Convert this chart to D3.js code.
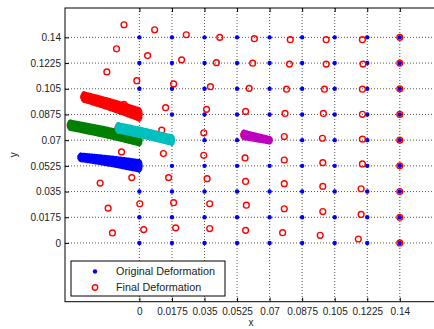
<!DOCTYPE html>
<html>
<head>
<meta charset="utf-8">
<script src="https://cdn.jsdelivr.net/npm/d3@7"></script>
<style>
  body { margin: 0; background: #fff; }
  svg { display: block; font-family: "Liberation Sans", Arial, Helvetica, sans-serif; }
</style>
</head>
<body>
<div id="chart"></div>
<script>
// grid positions (tick values) and their labels
const gridVals = [0, 0.0175, 0.035, 0.0525, 0.07, 0.0875, 0.105, 0.1225, 0.14];
const tickLabels = ['0', '0.0175', '0.035', '0.0525', '0.07', '0.0875', '0.105', '0.1225', '0.14'];

// final deformation, one row per original y level (bottom to top), [x, y]
const finalRows = [
    [[-0.0145, 0.0068], [0.0023, 0.0091], [0.0195, 0.0103], [0.0378, 0.0098], [0.0571, 0.0086], [0.0770, 0.0070], [0.0972, 0.0052], [0.1177, 0.0027], [0.14, 0]],
    [[-0.0168, 0.0237], [0.0002, 0.0267], [0.0184, 0.0274], [0.0378, 0.0267], [0.0575, 0.0257], [0.0779, 0.0233], [0.0986, 0.0214], [0.1192, 0.0194], [0.14, 0.0175]],
    [[-0.0211, 0.0408], [-0.0041, 0.0445], [0.0157, 0.0445], [0.0364, 0.0438], [0.0571, 0.0419], [0.0779, 0.0404], [0.0986, 0.0385], [0.1192, 0.0369], [0.14, 0.035]],
    [[-0.0315, 0.0583], [-0.0096, 0.0620], [0.0129, 0.0609], [0.0346, 0.0597], [0.0568, 0.0579], [0.0779, 0.0565], [0.0986, 0.0547], [0.1199, 0.0538], [0.14, 0.0525]],
    [[-0.0372, 0.0802], [-0.0115, 0.0784], [0.0120, 0.0768], [0.0346, 0.0750], [0.0561, 0.0736], [0.0779, 0.0725], [0.0984, 0.0713], [0.1199, 0.0707], [0.14, 0.07]],
    [[-0.0299, 0.0994], [-0.0083, 0.0944], [0.0141, 0.0921], [0.0361, 0.0910], [0.0571, 0.0896], [0.0783, 0.0882], [0.0989, 0.0882], [0.1199, 0.0876], [0.14, 0.0875]],
    [[-0.0175, 0.1165], [-0.0014, 0.1105], [0.0184, 0.1083], [0.0382, 0.1064], [0.0590, 0.1053], [0.0791, 0.1047], [0.0995, 0.1047], [0.1199, 0.1047], [0.14, 0.105]],
    [[-0.0123, 0.1322], [0.0044, 0.1276], [0.0227, 0.1247], [0.0414, 0.1228], [0.0609, 0.1224], [0.0807, 0.1218], [0.1004, 0.1218], [0.1202, 0.1218], [0.14, 0.1225]],
    [[-0.0083, 0.1486], [0.0082, 0.1452], [0.0252, 0.1418], [0.0432, 0.1400], [0.0618, 0.1391], [0.0811, 0.1384], [0.1004, 0.1384], [0.1199, 0.1384], [0.14, 0.14]]
];

// intermediate deformation tracks (centre line of each band)
const bluePath = [[-0.0315, 0.0583], [-0.0150, 0.0556], [0, 0.0525]];
const greenPath = [[-0.0372, 0.0802], [-0.0154, 0.0746], [0, 0.07]];
const redPath = [[-0.0299, 0.0994], [-0.0150, 0.0939], [0, 0.0875]];
const cyanPath = [[-0.0115, 0.0784], [0.0030, 0.0745], [0.0175, 0.07]];
const magentaPath = [[0.0561, 0.0736], [0.0630, 0.0718], [0.07, 0.07]];

const legendLabels = ['Original Deformation', 'Final Deformation'];

const width = 434, height = 329;
const plotLeft = 65, plotRight = 437, plotTop = 8, plotBottom = 301.7;

const svg = d3.select('#chart')
    .append('svg')
    .attr('width', width)
    .attr('height', height);

const xScale = d3.scaleLinear().domain([-0.04, 0.16]).range([plotLeft, plotRight]);
const yScale = d3.scaleLinear().domain([-0.04, 0.16]).range([plotBottom, plotTop]);

// Grid lines
svg.append('g').selectAll('line')
    .data(gridVals)
    .enter()
    .append('line')
    .attr('x1', d => xScale(d)).attr('x2', d => xScale(d))
    .attr('y1', plotTop).attr('y2', plotBottom)
    .attr('stroke', '#555').attr('stroke-width', 1)
    .attr('stroke-dasharray', '1,2');

svg.append('g').selectAll('line')
    .data(gridVals)
    .enter()
    .append('line')
    .attr('y1', d => yScale(d)).attr('y2', d => yScale(d))
    .attr('x1', plotLeft).attr('x2', plotRight)
    .attr('stroke', '#555').attr('stroke-width', 1)
    .attr('stroke-dasharray', '1,2');

// Axes
const xAxis = d3.axisBottom(xScale)
    .tickValues(gridVals)
    .tickFormat((d, i) => tickLabels[i])
    .tickSizeInner(-4).tickSizeOuter(0).tickPadding(6);
const yAxis = d3.axisLeft(yScale)
    .tickValues(gridVals)
    .tickFormat((d, i) => tickLabels[i])
    .tickSizeInner(-4).tickSizeOuter(0).tickPadding(4);

const gx = svg.append('g').attr('transform', `translate(0,${plotBottom})`).call(xAxis);
const gy = svg.append('g').attr('transform', `translate(${plotLeft},0)`).call(yAxis);
const gt = svg.append('g').attr('transform', `translate(0,${plotTop})`)
    .call(d3.axisTop(xScale).tickValues(gridVals).tickFormat('').tickSizeInner(-4).tickSizeOuter(0));

[gx, gy, gt].forEach(g => {
    g.select('.domain').remove();
    g.selectAll('line').attr('stroke', '#000');
    g.selectAll('text').attr('font-size', 10).attr('fill', '#222')
        .attr('font-family', '"Liberation Sans", Arial, sans-serif');
});

// Box
svg.append('rect')
    .attr('x', plotLeft).attr('y', plotTop)
    .attr('width', plotRight - plotLeft).attr('height', plotBottom - plotTop)
    .attr('fill', 'none').attr('stroke', '#000').attr('stroke-width', 1);

// Original deformation (blue dots)
const originalPts = d3.cross(gridVals, gridVals);
svg.append('g').selectAll('circle')
    .data(originalPts)
    .enter()
    .append('circle')
    .attr('cx', d => xScale(d[0]))
    .attr('cy', d => yScale(d[1]))
    .attr('r', 2.2)
    .attr('fill', '#0000ff');

// Final deformation (red circles)
svg.append('g').selectAll('circle')
    .data(finalRows.flat())
    .enter()
    .append('circle')
    .attr('cx', d => xScale(d[0]))
    .attr('cy', d => yScale(d[1]))
    .attr('r', 2.9)
    .attr('fill', 'none')
    .attr('stroke', '#ff0000')
    .attr('stroke-width', 1.4);

// Intermediate tracks drawn as bands of varying thickness (px at start, end)
const tracks = [
    { data: bluePath, color: '#0000ff', w: [8, 12] },
    { data: greenPath, color: '#008000', w: [10, 11] },
    { data: redPath, color: '#ff0000', w: [10, 13] },
    { data: cyanPath, color: '#00bfbf', w: [10, 10] },
    { data: magentaPath, color: '#bf00bf', w: [9, 7] }
];

tracks.forEach(t => {
    const n = t.data.length;
    const half = i => (t.w[0] + (t.w[1] - t.w[0]) * i / (n - 1)) / 2;
    const band = d3.area()
        .x(d => xScale(d[0]))
        .y0((d, i) => yScale(d[1]) - half(i))
        .y1((d, i) => yScale(d[1]) + half(i))
        .curve(d3.curveMonotoneX);
    const g = svg.append('g')
        .attr('fill', t.color)
        .attr('stroke', t.color)
        .attr('stroke-width', 1.6)
        .attr('stroke-linejoin', 'round')
        .attr('stroke-linecap', 'round')
        .attr('stroke-dasharray', '1.5,1.2');
    g.append('path').attr('d', band(t.data));
    // rounded ends
    g.selectAll('ellipse')
        .data([0, n - 1])
        .enter()
        .append('ellipse')
        .attr('cx', i => xScale(t.data[i][0]))
        .attr('cy', i => yScale(t.data[i][1]))
        .attr('rx', 2.5)
        .attr('ry', i => half(i));
});

// Axis labels
svg.append('text')
    .attr('x', (plotLeft + plotRight) / 2).attr('y', 326)
    .attr('text-anchor', 'middle')
    .attr('font-size', 10).attr('fill', '#222')
    .text('x');

svg.append('text')
    .attr('transform', `translate(17,${(plotTop + plotBottom) / 2}) rotate(-90)`)
    .attr('text-anchor', 'middle')
    .attr('font-size', 10).attr('fill', '#222')
    .text('y');

// Legend
const legend = svg.append('g');
legend.append('rect')
    .attr('x', 71).attr('y', 261)
    .attr('width', 154).attr('height', 35)
    .attr('fill', '#fff').attr('stroke', '#000').attr('stroke-width', 1);

const items = legend.selectAll('.item')
    .data(legendLabels)
    .enter()
    .append('g')
    .attr('class', 'item')
    .attr('transform', (d, i) => `translate(0,${271.5 + i * 16})`);

items.append('circle')
    .attr('cx', 95).attr('cy', 0)
    .attr('r', (d, i) => i === 0 ? 2.2 : 2.7)
    .attr('fill', (d, i) => i === 0 ? '#0000ff' : 'none')
    .attr('stroke', (d, i) => i === 0 ? 'none' : '#ff0000')
    .attr('stroke-width', 1.4);

items.append('text')
    .attr('x', 116).attr('y', 0)
    .attr('dy', '0.36em')
    .attr('font-size', 10.8).attr('fill', '#222')
    .text(d => d);
</script>
</body>
</html>
